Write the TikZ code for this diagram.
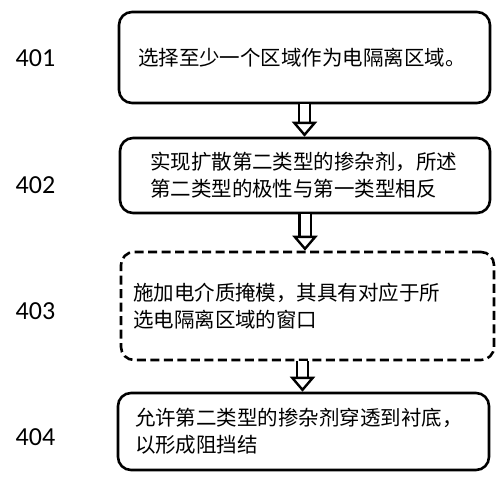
\documentclass[tikz,border=0pt]{standalone}
\usepackage{fontspec}
\newfontfamily\cjk{Noto Sans CJK SC}
\newfontfamily\numfont{Carlito}
\usepackage{tikz}
\usetikzlibrary{arrows.meta,positioning,calc}

\begin{document}
\begin{tikzpicture}[x=1pt, y=-1pt,
  box/.style={draw, line width=2.6pt, rounded corners=13pt, font=\cjk\fontsize{20.5}{27}\selectfont, align=left},
  lbl/.style={font=\numfont\fontsize{26}{26}\selectfont},
  flow/.style={double, double distance=9pt, line width=2.4pt, -{Triangle[open, length=15pt, width=25pt, line width=2.4pt]}}]
\useasboundingbox (0,0) rectangle (499,480);
\node[box, minimum width=371pt, minimum height=91pt, text width=333pt, inner xsep=19pt] (s1) at (304.5,57.5) {选择至少一个区域作为电隔离区域。};
\node[box, minimum width=370pt, minimum height=75pt, text width=310pt, inner xsep=30pt] (s2) at (305,175.5) {实现扩散第二类型的掺杂剂，所述\\第二类型的极性与第一类型相反};
\node[box, dashed, dash pattern=on 9pt off 4.5pt, minimum width=373pt, minimum height=108pt, text width=349pt, inner xsep=12pt] (s3) at (307.5,306) {施加电介质掩模，其具有对应于所\\选电隔离区域的窗口};
\node[box, minimum width=371pt, minimum height=77pt, text width=337pt, inner xsep=17pt] (s4) at (303.5,431.5) {允许第二类型的掺杂剂穿透到衬底，\\以形成阻挡结};
\node[lbl] (l1) at (35.5,58) {401};
\node[lbl] (l2) at (35.5,185) {402};
\node[lbl] (l3) at (35.5,311) {403};
\node[lbl] (l4) at (35.5,437) {404};
\draw[flow] (s1.south) -- (s1.south |- s2.north);
\draw[flow] (s2.south) -- (s2.south |- s3.north);
\draw[flow] ([xshift=-5pt]s3.south) -- ([xshift=-5pt]s3.south |- s4.north);
\end{tikzpicture}
\end{document}
